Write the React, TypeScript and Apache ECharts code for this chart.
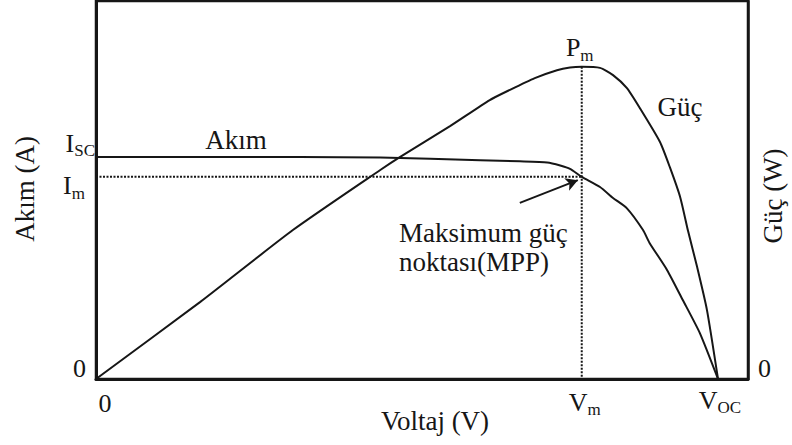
import React, { useEffect, useRef } from 'react';
import * as echarts from 'echarts';

// ---- data (normalised units) ----
const currentV = [0, 16.0, 31.3, 43.6, 58.9, 65.0, 69.2, 71.2, 72.7, 74.5, 77.3, 79.3, 81.4, 83.9, 84.9, 87.6, 90.0, 92.6, 95.4];
const currentI = [58.7, 58.7, 58.7, 58.6, 57.9, 57.6, 57.3, 56.5, 55.6, 53.5, 50.8, 47.9, 45.2, 39.4, 36.0, 28.8, 20.9, 12.2, 0];

const powerV = [0, 16.0, 30.2, 43.6, 46.6, 54.3, 60.4, 63.5, 67.3, 70.7, 72.7, 74.5, 77.3, 79.3, 81.4, 83.4, 86.5, 88.0, 89.6, 90.8, 92.2, 93.7, 95.4];
const powerP = [0, 20.4, 39.4, 55.3, 58.7, 66.9, 73.8, 76.5, 79.6, 81.7, 82.4, 82.6, 82.3, 80.4, 77.0, 71.7, 62.7, 56.1, 48.1, 39.2, 29.6, 18.3, 0];

const Isc = 58.7;
const Im = 53.5;
const Vm = 74.5;
const Voc = 95.4;
const Pm = 82.6;

const arrowFrom = [65.0, 46.6];
const arrowTo = [73.9, 52.6];

const xTicks = [0, Vm, Voc];
const xTickLabels = ['0', '{m|V}{s|m}', '{m|V}{s|OC}'];
const yTicks = [0, Im, Isc];
const yTickLabels = ['0', '{m|I}{s|m}', '{m|I}{s|SC}'];
const rightTicks = [0];
const rightTickLabels = ['0'];

const FAMILY = 'Liberation Serif';
const INK = '#161616';

export default function App() {
  const ref = useRef<HTMLDivElement>(null);
  useEffect(() => {
    if (!ref.current) return;
    const chart = echarts.init(ref.current, null, { renderer: 'svg' });
    const zip = (a: number[], b: number[]) => a.map((v, i) => [v, b[i]]);
    chart.setOption({
      animation: false,
      backgroundColor: '#ffffff',
      grid: { left: 96, right: 44, top: 1, bottom: 66, show: true, borderColor: INK, borderWidth: 2.5, backgroundColor: 'transparent' },
      xAxis: {
        type: 'value', min: 0, max: 100,
        axisLine: { show: true, onZero: false, lineStyle: { color: INK, width: 3 } },
        axisTick: { show: false }, axisLabel: { show: false }, splitLine: { show: false },
      },
      yAxis: [
        {
          type: 'value', min: 0, max: 100,
          axisLine: { show: true, onZero: false, lineStyle: { color: INK, width: 3 } },
          axisTick: { show: false }, axisLabel: { show: false }, splitLine: { show: false },
        },
        {
          type: 'value', min: 0, max: 100, position: 'right',
          axisLine: { show: true, onZero: false, lineStyle: { color: INK, width: 2.5 } },
          axisTick: { show: false }, axisLabel: { show: false }, splitLine: { show: false },
        },
      ],
      series: [
        {
          name: 'Akım', type: 'line', yAxisIndex: 0, data: zip(currentV, currentI),
          smooth: 0.2, showSymbol: false, silent: true,
          lineStyle: { color: INK, width: 2 },
        },
        {
          name: 'Güç', type: 'line', yAxisIndex: 1, data: zip(powerV, powerP),
          smooth: 0.2, showSymbol: false, silent: true,
          lineStyle: { color: INK, width: 2 },
        },
        {
          name: 'Im', type: 'line', yAxisIndex: 0, data: [[0, Im], [Vm, Im]],
          showSymbol: false, silent: true,
          lineStyle: { color: INK, width: 2, type: [2, 1.5] },
          markLine: {
            silent: true, symbol: ['none', 'arrow'], symbolSize: [10, 12],
            label: { show: false },
            lineStyle: { color: INK, width: 2, type: 'solid' },
            data: [[{ coord: arrowFrom }, { coord: arrowTo }]],
          },
        },
        {
          name: 'Vm', type: 'line', yAxisIndex: 1, data: [[Vm, Pm], [Vm, 0]],
          showSymbol: false, silent: true,
          lineStyle: { color: INK, width: 2, type: [2, 1.5] },
        },
      ],
    });

    const px = (x: number, y: number) => chart.convertToPixel({ gridIndex: 0 }, [x, y]) as number[];
    const rich = {
      m: { fontSize: 26, lineHeight: 32, fontFamily: FAMILY, fill: INK, color: INK },
      t: { fontSize: 27, lineHeight: 32, fontFamily: FAMILY, fill: INK, color: INK },
      s: { fontSize: 17, lineHeight: 16, fontFamily: FAMILY, fill: INK, color: INK, verticalAlign: 'bottom' },
    };
    const txt = (x: number, y: number, text: string, align = 'center', vAlign = 'middle', extra: any = {}) => ({
      type: 'text', x, y, silent: true, ...extra,
      style: { text, rich, fontFamily: FAMILY, fontSize: 26, fill: INK, align, verticalAlign: vAlign },
    });

    const xOff = [[9, 24], [3, 23], [2, 21]];
    const yOff = [[-10, -11], [-11, 9], [-1, -14]];
    const graphics: any[] = [];
    xTicks.forEach((v, i) => {
      const [x, y] = px(v, 0);
      graphics.push(txt(x + xOff[i][0], y + xOff[i][1], xTickLabels[i], 'center'));
    });
    yTicks.forEach((v, i) => {
      const [x, y] = px(0, v);
      graphics.push(txt(x + yOff[i][0], y + yOff[i][1], yTickLabels[i], 'right'));
    });
    rightTicks.forEach((v, i) => {
      const [x, y] = px(100, v);
      graphics.push(txt(x + 10, y - 11, rightTickLabels[i], 'left'));
    });
    const [pmx, pmy] = px(Vm, Pm);
    graphics.push(txt(pmx - 2, pmy - 19, '{m|P}{s|m}', 'center'));
    graphics.push(txt(236, 140, '{t|Akım}'));
    graphics.push(txt(680, 107, '{t|Güç}'));
    graphics.push({
      type: 'text', x: 399, y: 218, silent: true,
      style: { text: 'Maksimum güç\nnoktası(MPP)', fontFamily: FAMILY, fontSize: 27, lineHeight: 29, fill: INK, align: 'left', verticalAlign: 'top' },
    });
    graphics.push(txt(435, 421, '{t|Voltaj (V)}'));
    graphics.push(txt(25, 189, '{t|Akım (A)}', 'center', 'middle', { rotation: Math.PI / 2 }));
    graphics.push(txt(773, 196, '{t|Güç (W)}', 'center', 'middle', { rotation: Math.PI / 2 }));
    chart.setOption({ graphic: graphics });

    return () => chart.dispose();
  }, []);
  return <div ref={ref} style={{ position: 'fixed', left: 0, top: 0, width: 792, height: 445 }} />;
}
